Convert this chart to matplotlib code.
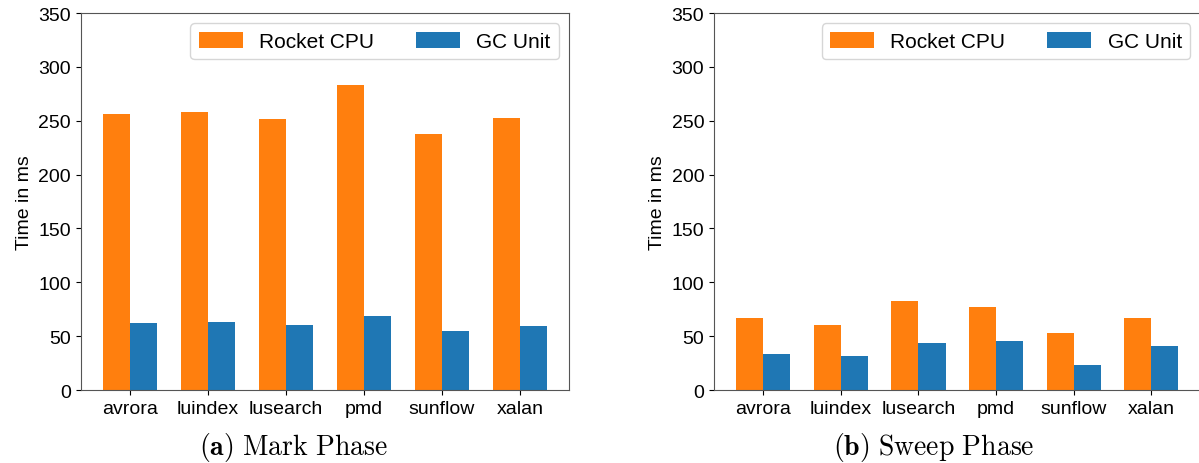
import matplotlib
matplotlib.use("Agg")
import matplotlib.pyplot as plt
import numpy as np

plt.rcParams['font.family'] = ['Liberation Sans', 'DejaVu Sans']
plt.rcParams['mathtext.fontset'] = 'cm'

benchmarks = ['avrora', 'luindex', 'lusearch', 'pmd', 'sunflow', 'xalan']
series_names = ['Rocket CPU', 'GC Unit']

# mark phase (ms)
mark_cpu = [256.0, 257.9, 251.4, 282.9, 237.5, 252.3]
mark_gc = [62.2, 63.1, 60.3, 68.6, 54.7, 59.4]

# sweep phase (ms)
sweep_cpu = [66.9, 60.4, 82.7, 77.1, 52.9, 66.9]
sweep_gc = [33.4, 31.6, 43.7, 45.5, 23.2, 40.9]

captions = [r"$\mathbf{(a)}\ \mathrm{Mark\ Phase}$",
            r"$\mathbf{(b)}\ \mathrm{Sweep\ Phase}$"]

colors = ['#ff7f0e', '#1f77b4']
width = 0.35
fs = 14

fig = plt.figure(figsize=(11.99, 4.64), dpi=100)
ax1 = fig.add_axes([0.0673, 0.1573, 0.4075, 0.8125])
ax2 = fig.add_axes([0.5955, 0.1573, 0.4058, 0.8125])

x = np.arange(len(benchmarks))
for ax, cpu, gc in [(ax1, mark_cpu, mark_gc), (ax2, sweep_cpu, sweep_gc)]:
    ax.bar(x - width / 2, cpu, width, color=colors[0], label=series_names[0])
    ax.bar(x + width / 2, gc, width, color=colors[1], label=series_names[1])
    ax.set_ylim(0, 350)
    ax.set_xticks(x)
    ax.set_xticklabels(benchmarks, fontsize=fs)
    ax.tick_params(axis='y', labelsize=fs)
    ax.set_ylabel('Time in ms', fontsize=fs)
    for s in ax.spines.values():
        s.set_color('#555555')
    ax.legend(loc='upper right', ncol=2, fontsize=15, handlelength=2.1,
              handleheight=0.8, columnspacing=2.0)

fig.text(0.245, 0.02, captions[0], fontsize=20, ha='center')
fig.text(0.779, 0.02, captions[1], fontsize=20, ha='center')

fig.savefig('out.png', dpi=100)
